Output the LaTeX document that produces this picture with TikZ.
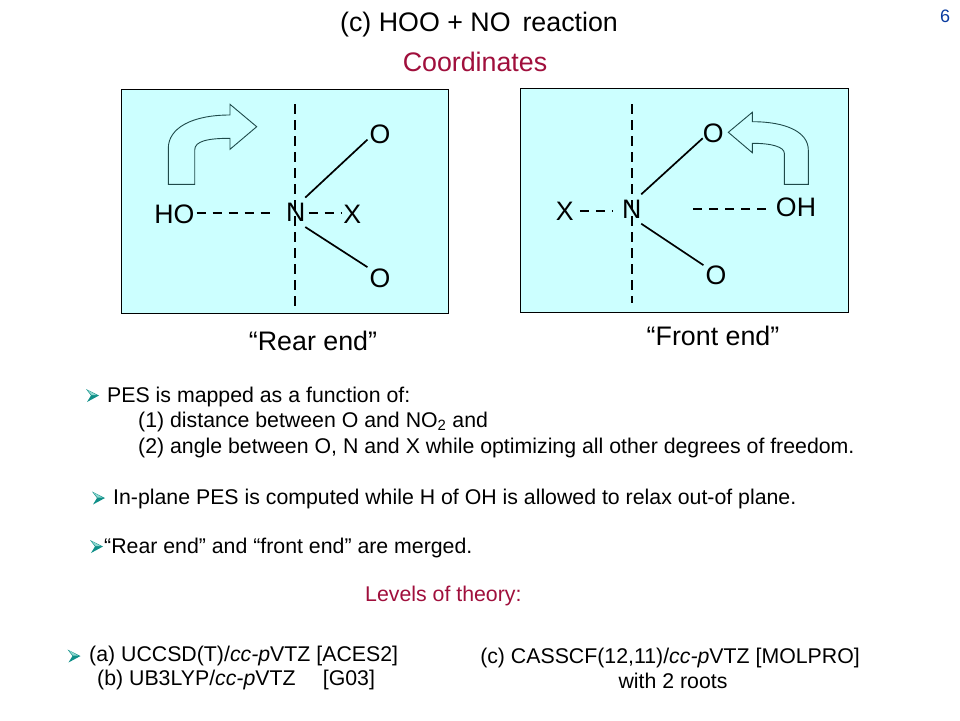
\documentclass[tikz,border=0pt]{standalone}
\usepackage{fontspec}
\setmainfont{Liberation Sans}
\definecolor{boxfill}{HTML}{CCFFFF}
\definecolor{crim}{HTML}{A00F3C}
\definecolor{pageno}{HTML}{0A3CA0}
\definecolor{bul}{HTML}{0F8F88}
\definecolor{bullight}{HTML}{8FD8D0}
\definecolor{arrowline}{HTML}{1F4A4A}
\newcommand{\fs}[1]{\fontsize{#1}{#1}\selectfont}
\tikzset{
  panel/.style={draw=black,fill=boxfill,line width=1pt},
  atom/.style={font=\fs{26.7},inner sep=1pt,text height=19pt,text depth=0pt},
  bondline/.style={line width=1.7pt},
  dbond/.style={line width=1.7pt,dash pattern=on 9.5pt off 6.5pt},
  turnarrow/.style={draw=arrowline,fill=boxfill,line width=0.9pt,line join=miter},
  txtline/.style={anchor=base west,inner sep=0pt,font=\fs{21.3}},
  headline/.style={anchor=base,inner sep=0pt,font=\fs{26.8}},
  bulletmark/.pic={
    \fill[bul] (0,0) -- (13,6.5) -- (1,13) -- (5,6.5) -- cycle;
    \fill[bullight] (1.5,1) -- (10.5,6) -- (5.5,6) -- cycle;
  },
}
\begin{document}
\begin{tikzpicture}[x=1pt,y=-1pt]
\useasboundingbox (0,0) rectangle (960,720);
\fill[white] (0,0) rectangle (960,720);
\node[headline] (title) at (479,31) {(c) HOO + NO\, reaction};
\node[headline,text=crim] (coord) at (475,71) {Coordinates};
\node[anchor=base,inner sep=0pt,font=\fs{18},text=pageno] (pg) at (945,22) {6};
% left panel
\node[panel,minimum width=327.5pt,minimum height=224pt,inner sep=0pt] (boxL) at (284.75,201) {};
\draw[turnarrow] (168.3,184.3) -- (194.7,184.3) -- (194.7,150) .. controls (194.7,141) and (208,138.3) .. (230,138.3)
  -- (230,149.3) -- (256.7,126.7) -- (230,104.3) -- (230,115) .. controls (192,115) and (168.3,128) .. (168.3,148.3) -- cycle;
\coordinate (vL1) at (295,104);
\coordinate (vL2) at (295,306);
\draw[dbond] (vL1) -- (vL2);
\node[atom,inner xsep=3pt,inner ysep=5pt] (N1) at (295.7,212.3) {N};
\node[atom,inner sep=2pt] (HO) at (174.4,214) {HO};
\node[atom,inner sep=1.5pt] (X1) at (352.3,214) {X};
\node[atom,inner sep=2pt] (O1) at (380,134.3) {O};
\node[atom,inner sep=2pt] (O2) at (380,277.7) {O};
\draw[dbond,shorten >=9.7pt] (HO.east |- 0,212.7) -- (N1.west |- 0,212.7);
\draw[dbond] (N1.east |- 0,212.7) -- (X1.west |- 0,212.7);
\draw[bondline] (N1.57) -- (O1.203);
\draw[bondline] (N1.-57) -- (O2.140);
% right panel
\node[panel,minimum width=328pt,minimum height=223.5pt,inner sep=0pt] (boxR) at (684,200.25) {};
\draw[turnarrow] (728.3,132.3) -- (752.3,112.3) -- (752.3,121.7) .. controls (786,121.7) and (808.3,132) .. (808.3,150)
  -- (808.3,184.3) -- (784.3,184.3) -- (784.3,153.3) .. controls (784.3,147) and (772,143.3) .. (752.3,143.3)
  -- (752.3,152.7) -- cycle;
\coordinate (vR1) at (632,104);
\coordinate (vR2) at (632,303);
\draw[dbond] (vR1) -- (vR2);
\node[atom,inner xsep=3pt,inner ysep=5pt] (N2) at (631.7,209) {N};
\node[atom,inner sep=6pt] (X2) at (564.7,210.7) {X};
\node[atom,inner sep=0pt] (O3) at (713.3,133.3) {O};
\node[atom,inner sep=2pt] (O4) at (716,275) {O};
\node[atom,inner sep=4pt] (OH) at (796,207) {OH};
\coordinate (dashR) at (689,209.3);
\draw[dbond,shorten >=7pt] (X2.east |- 0,211) -- (N2.west |- 0,211);
\draw[dbond,shorten <=5.7pt] (OH.west |- dashR) -- (dashR);
\draw[bondline] (N2.57) -- (O3.205);
\draw[bondline] (N2.-57) -- (O4.142);
% captions
\node[headline] (rear) at (313,350) {“Rear end”};
\node[headline] (front) at (713,345) {“Front end”};
% body
\pic at (86,389) {bulletmark};
\node[txtline] (t1) at (107,402) {PES is mapped as a function of:};
\node[txtline] (t2) at (138,427) {(1) distance between O and NO\textsubscript{2} and};
\node[txtline] (t3) at (138,453) {(2) angle between O, N and X while optimizing all other degrees of freedom.};
\pic at (92,491.5) {bulletmark};
\node[txtline] (t4) at (113,504) {In-plane PES is computed while H of OH is allowed to relax out-of plane.};
\pic at (90,540) {bulletmark};
\node[txtline] (t5) at (104,553.5) {“Rear end” and “front end” are merged.};
\node[txtline,text=crim] (lev) at (365,601) {Levels of theory:};
\pic at (67.5,649.5) {bulletmark};
\node[txtline] (t6) at (89,661) {(a) UCCSD(T)/\textit{cc-p}VTZ [ACES2]};
\node[txtline] (t7) at (97,685) {(b) UB3LYP/\textit{cc-p}VTZ\quad\  [G03]};
\node[txtline,anchor=base] (t8) at (670,663) {(c) CASSCF(12,11)/\textit{cc-p}VTZ [MOLPRO]};
\node[txtline,anchor=base] (t9) at (673,688) {with 2 roots};
\end{tikzpicture}
\end{document}
